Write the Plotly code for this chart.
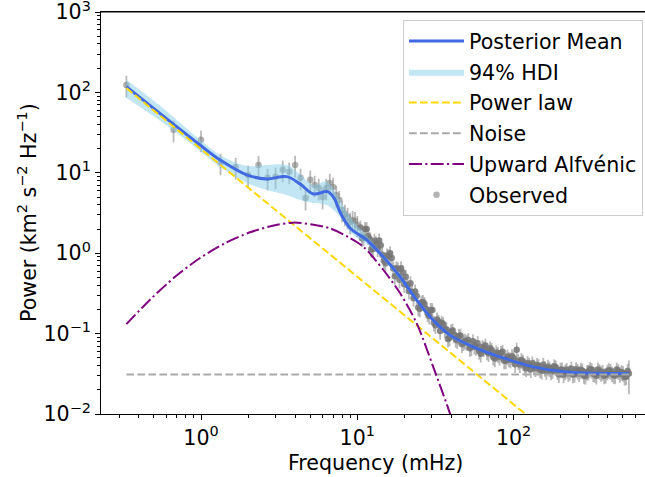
import plotly.graph_objects as go

# ---------------- data ----------------
obs_freq = [0.333, 0.667, 1.000, 1.333, 1.667, 2.000, 2.333, 2.667, 3.000, 3.333,
            3.667, 4.000, 4.333, 4.667, 5.000, 5.333, 5.667, 6.000, 6.333, 6.667,
            7.000, 7.333, 7.667, 8.000, 8.333, 8.667, 9.000, 9.333, 9.667, 10.00,
            10.47, 10.96, 11.48, 12.02, 12.59, 13.18, 13.80, 14.45, 15.14, 15.85,
            16.60, 17.38, 18.20, 19.05, 19.95, 20.89, 21.88, 22.91, 23.99, 25.12,
            26.30, 27.54, 28.84, 30.20, 31.62, 33.11, 34.67, 36.31, 38.02, 39.81,
            41.69, 43.65, 45.71, 47.86, 50.12, 52.48, 54.95, 57.54, 60.26, 63.10,
            66.07, 69.18, 72.44, 75.86, 79.43, 83.18, 87.10, 91.20, 95.50, 100.0,
            104.7, 109.6, 114.8, 120.2, 125.9, 131.8, 138.0, 144.5, 151.4, 158.5,
            166.0, 173.8, 182.0, 190.5, 199.5, 208.9, 218.8, 229.1, 239.9, 251.2,
            263.0, 275.4, 288.4, 302.0, 316.2, 331.1, 346.7, 363.1, 380.2, 398.1,
            416.9, 436.5, 457.1, 478.6, 501.2, 524.8, 547.0]
obs_power = [124, 34.2, 25.7, 13.3, 11.8, 9.42, 12.5, 8.65, 8.9, 10.9,
             10.3, 12.5, 8.65, 4.87, 8.17, 7.06, 6.49, 5.01, 6.49, 7.48,
             6.67, 5.31, 4.59, 3.45, 3.08, 2.82, 2.44, 2.58, 2.51, 2.24,
             2.09, 1.57, 2.00, 1.50, 1.13, 1.33, 1.44, 0.957, 0.750, 0.916,
             0.871, 0.518, 0.632, 0.649, 0.411, 0.398, 0.422, 0.276, 0.293, 0.204,
             0.247, 0.202, 0.166, 0.196, 0.127, 0.141, 0.136, 0.112, 0.0859, 0.106,
             0.0968, 0.0826, 0.0944, 0.0780, 0.0783, 0.0658, 0.0802, 0.0681, 0.0607, 0.0679,
             0.0711, 0.0568, 0.0624, 0.0489, 0.0556, 0.0574, 0.0460, 0.0519, 0.0473, 0.0495,
             0.0630, 0.0414, 0.0447, 0.0371, 0.0409, 0.0427, 0.0370, 0.0395, 0.0344, 0.0372,
             0.0388, 0.0337, 0.0392, 0.0340, 0.0356, 0.0309, 0.0354, 0.0333, 0.0310, 0.0360,
             0.0320, 0.0346, 0.0297, 0.0337, 0.0352, 0.0313, 0.0358, 0.0322, 0.0300, 0.0336,
             0.0343, 0.0305, 0.0357, 0.0314, 0.0324, 0.0292, 0.0319]
obs_rel_err = [0.30] * 30 + [0.22] * 86 + [0.45]

# further observed points in the dense high-frequency part
obs2_freq = [10.72, 11.22, 11.75, 12.30, 12.88, 13.49, 14.13, 14.79, 15.49, 16.22,
             16.98, 17.78, 18.62, 19.50, 20.42, 21.38, 22.39, 23.44, 24.55, 25.70,
             26.92, 28.18, 29.51, 30.90, 32.36, 33.88, 35.48, 37.15, 38.90, 40.74,
             42.66, 44.67, 46.77, 48.98, 51.29, 53.70, 56.23, 58.88, 61.66, 64.57,
             67.61, 70.79, 74.13, 77.62, 81.28, 85.11, 89.13, 93.33, 97.72, 102.3,
             107.2, 112.2, 117.5, 123.0, 128.8, 134.9, 141.3, 147.9, 154.9, 162.2,
             169.8, 177.8, 186.2, 195.0, 204.2, 213.8, 223.9, 234.4, 245.5, 257.0,
             269.2, 281.8, 295.1, 309.0, 323.6, 338.8, 354.8, 371.5, 389.0, 407.4,
             426.6, 446.7, 467.7, 489.8, 512.9, 537.0]
obs2_power = [1.53, 2.00, 1.62, 1.12, 1.43, 1.14, 1.26, 0.813, 0.939, 0.998,
              0.644, 0.648, 0.466, 0.577, 0.509, 0.341, 0.330, 0.334, 0.211, 0.243,
              0.234, 0.179, 0.197, 0.136, 0.150, 0.108, 0.131, 0.113, 0.0889, 0.109,
              0.0859, 0.0934, 0.0736, 0.0814, 0.0830, 0.0675, 0.0704, 0.0761, 0.0560, 0.0657,
              0.0596, 0.0655, 0.0513, 0.0583, 0.0513, 0.0594, 0.0462, 0.0488, 0.0522, 0.0416,
              0.0455, 0.0469, 0.0407, 0.0430, 0.0360, 0.0390, 0.0407, 0.0358, 0.0410, 0.0340,
              0.0368, 0.0351, 0.0380, 0.0312, 0.0357, 0.0337, 0.0322, 0.0365, 0.0314, 0.0343,
              0.0354, 0.0304, 0.0333, 0.0364, 0.0320, 0.0298, 0.0341, 0.0333, 0.0306, 0.0351,
              0.0320, 0.0301, 0.0341, 0.0332, 0.0289, 0.0342]
obs2_rel_err = [0.22] * 86

mean_freq = [0.333, 0.985, 1.32, 1.96, 2.63, 3.53, 4.30, 5.23, 6.45, 7.10, 7.75, 8.98,
             11.5, 13.97, 18.8, 24.0, 30.6, 39.2, 55.2, 81.8, 133.7, 218.8, 547.0]
mean_power = [118, 22.2, 14.5, 9.42, 8.39, 8.97, 7.28, 5.46, 5.83, 4.86, 3.26, 2.06,
              1.46, 0.998, 0.509, 0.261, 0.147, 0.0957, 0.0686, 0.0514, 0.0386, 0.0334, 0.0319]

hdi_freq = [0.333, 0.547, 0.985, 1.323, 1.96, 2.63, 3.53, 4.30, 5.23, 6.37, 7.75, 8.98,
            11.5, 13.97, 18.8, 24.0, 30.6, 39.2, 55.2, 81.8, 133.7, 218.8, 547.0]
hdi_upper = [143.5, 68.1, 25.7, 16.7, 12.2, 12.5, 12.5, 9.68, 7.06, 7.71, 4.59, 2.82,
             1.64, 1.07, 0.551, 0.280, 0.156, 0.101, 0.0715, 0.0532, 0.0397, 0.0343, 0.0328]
hdi_lower = [84.9, 44.3, 18.7, 11.9, 7.48, 6.12, 5.31, 4.59, 4.22, 3.98, 2.82, 1.84,
             1.30, 0.930, 0.463, 0.245, 0.139, 0.0904, 0.0660, 0.0497, 0.0375, 0.0325, 0.0310]

powerlaw_freq = [0.333, 547.0]
powerlaw_power = [113, 0.000889]

noise_freq = [0.333, 547.0]
noise_power = [0.0310, 0.0310]

alf_freq = [0.333, 0.472, 0.682, 0.985, 1.424, 2.06, 2.974, 3.90, 5.13, 6.68, 8.71,
            10.9, 14.7, 18.8, 24.0, 30.6, 39.2, 45.0]
alf_power = [0.131, 0.264, 0.508, 0.871, 1.33, 1.82, 2.23, 2.40, 2.28, 2.04, 1.60,
             1.21, 0.618, 0.317, 0.134, 0.0386, 0.0101, 0.0042]

x_tickvals = [1, 10, 100]
x_ticktext = ["10<sup>0</sup>", "10<sup>1</sup>", "10<sup>2</sup>"]
x_minor = [0.2, 0.3, 0.4, 0.5, 0.6, 0.7, 0.8, 0.9, 2, 3, 4, 5, 6, 7, 8, 9,
           20, 30, 40, 50, 60, 70, 80, 90, 200, 300, 400, 500, 600, 700]
y_tickvals = [0.01, 0.1, 1, 10, 100, 1000]
y_ticktext = ["10<sup>−2</sup>", "10<sup>−1</sup>", "10<sup>0</sup>",
              "10<sup>1</sup>", "10<sup>2</sup>", "10<sup>3</sup>"]
y_minor = [m * d for d in (0.01, 0.1, 1, 10, 100) for m in range(2, 10)]

FONT = "DejaVu Sans"
FS = 20.6
L, R, T, B, W, H = 101, 0, 12, 63, 645, 477
PW, PH = W - L - R, H - T - B

fig = go.Figure()

all_freq = obs_freq + obs2_freq
all_power = obs_power + obs2_power
all_err = [p * e for p, e in zip(all_power, obs_rel_err + obs2_rel_err)]
marker_colors = (["rgba(128,128,128,0.6)"] * len(obs_freq[:30])
                 + ["rgba(118,118,118,0.85)"] * (len(all_freq) - 30))
fig.add_trace(go.Scatter(
    x=all_freq, y=all_power, mode="markers", name="Observed",
    marker=dict(color=marker_colors, size=6.5),
    error_y=dict(type="data", array=all_err, arrayminus=all_err,
                 color="rgba(128,128,128,0.55)", thickness=1.8, width=0),
    legendrank=6, legendgroup="g6",
))

fig.add_trace(go.Scatter(
    x=hdi_freq, y=hdi_lower, mode="lines", line=dict(width=0, shape="spline"),
    showlegend=False, hoverinfo="skip", legendgroup="g2",
))
fig.add_trace(go.Scatter(
    x=hdi_freq, y=hdi_upper, mode="lines", name="94% HDI",
    line=dict(width=0, shape="spline"), fill="tonexty",
    fillcolor="rgba(135,206,235,0.5)", legendrank=2, legendgroup="g2",
))
fig.add_trace(go.Scatter(
    x=mean_freq, y=mean_power, mode="lines", name="Posterior Mean",
    line=dict(color="royalblue", width=3, shape="spline"), legendrank=1, legendgroup="g1",
))
fig.add_trace(go.Scatter(
    x=powerlaw_freq, y=powerlaw_power, mode="lines", name="Power law",
    line=dict(color="gold", width=2, dash="7.7px,3.3px"), legendrank=3, legendgroup="g3",
))
fig.add_trace(go.Scatter(
    x=noise_freq, y=noise_power, mode="lines", name="Noise",
    line=dict(color="darkgray", width=2, dash="7.7px,3.3px"), legendrank=4, legendgroup="g4",
))
fig.add_trace(go.Scatter(
    x=alf_freq, y=alf_power, mode="lines", name="Upward Alfvénic",
    line=dict(color="purple", width=2, dash="13px,3.3px,2.1px,3.3px",
              shape="spline", smoothing=0.8),
    legendrank=5, legendgroup="g5",
))

fig.update_layout(
    width=W, height=H,
    margin=dict(l=L, r=R, t=T, b=B),
    paper_bgcolor="white", plot_bgcolor="white",
    font=dict(family=FONT, size=FS, color="black"),
    legend=dict(
        x=(643 - L) / PW, y=(H - B - 20) / PH, xanchor="right", yanchor="top",
        traceorder="grouped", itemwidth=55, tracegroupgap=1,
        bgcolor="rgba(255,255,255,0.8)", bordercolor="#cccccc", borderwidth=1,
        font=dict(family=FONT, size=FS),
    ),
    shapes=[dict(type="line", xref="paper", yref="paper", x0=0, x1=1, y0=1, y1=1,
                 line=dict(color="black", width=1))],
    annotations=[
        dict(text="Frequency (mHz)", xref="paper", yref="paper",
             x=(375 - L) / PW, y=(H - B - 463) / PH, xanchor="center", yanchor="middle",
             showarrow=False, font=dict(family=FONT, size=FS)),
        dict(text="Power (km<sup>2</sup> s<sup>−2</sup> Hz<sup>−1</sup>)",
             xref="paper", yref="paper", textangle=-90,
             x=(27 - L) / PW, y=(H - B - 213) / PH, xanchor="center", yanchor="middle",
             showarrow=False, font=dict(family=FONT, size=FS)),
    ],
)
fig.update_xaxes(
    type="log", range=[-0.640, 2.841], automargin=False,
    tickvals=x_tickvals, ticktext=x_ticktext, ticklabeloverflow="allow",
    ticks="outside", ticklen=5, tickwidth=1, tickcolor="black",
    showline=True, linecolor="black", linewidth=1, mirror=True,
    showgrid=False, zeroline=False,
    minor=dict(tickvals=x_minor, ticks="outside", ticklen=3, tickcolor="black",
               tickwidth=1, showgrid=False),
)
fig.update_yaxes(
    type="log", range=[-2, 3], automargin=False,
    tickvals=y_tickvals, ticktext=y_ticktext, ticklabeloverflow="allow",
    ticks="outside", ticklen=5, tickwidth=1, tickcolor="black",
    showline=True, linecolor="black", linewidth=1, mirror=False,
    showgrid=False, zeroline=False,
    minor=dict(tickvals=y_minor, ticks="outside", ticklen=3, tickcolor="black",
               tickwidth=1, showgrid=False),
)

fig.write_html("out.html", config={"displayModeBar": False},
               post_script="document.body.style.margin='0';document.body.style.overflow='hidden';")
